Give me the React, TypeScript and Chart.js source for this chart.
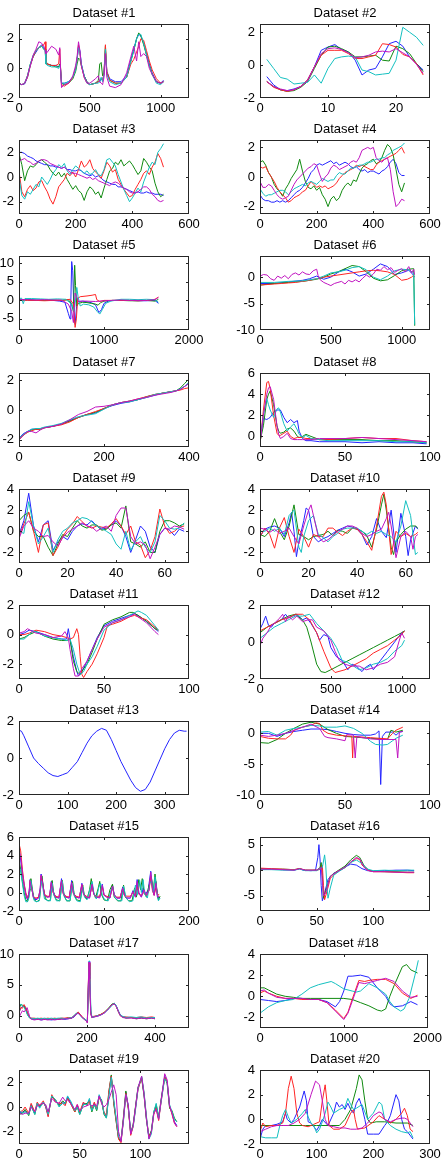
import { useEffect, useRef } from 'react';
import { Chart, registerables } from 'chart.js';

Chart.register(...registerables);

type Pt = [number, number];

const BLUE = '#2424ff';
const GREEN = '#108a10';
const RED = '#ff2424';
const CYAN = '#14c0c0';
const MAGENTA = '#c014c0';

// ---------- Dataset #1 ----------
const p1X = [0,20,40,60,80,100,120,140,160,175,185,190,200,230,260,280,288,292,300,320,350,380,400,410,420,430,440,460,480,500,540,560,570,580,590,600,610,620,640,680,720,760,790,810,830,845,860,880,900,920,940,970,1000,1020];
const p1Blue = [-1.0,-1.1,-1.05,-0.6,0.2,0.8,1.1,1.4,1.6,1.4,1.3,0.4,0.3,0.2,0.2,0.1,0.2,0.1,-1.0,-1.0,-0.9,-0.6,0.0,0.6,1.5,1.2,0.3,-0.5,-0.9,-1.1,-1.0,-0.9,-0.9,-0.7,-0.8,-0.4,1.2,-0.2,-0.7,-0.9,-0.9,-0.5,0.6,1.3,2.0,2.3,2.2,1.7,1.0,0.3,-0.3,-0.9,-1.0,-0.8];
const p1Green = [-1.0,-1.1,-1.0,-0.5,0.3,0.8,1.2,1.4,1.5,1.3,1.2,0.3,0.3,0.2,0.1,0.1,0.3,0.2,-1.0,-1.1,-1.0,-0.7,-0.2,0.3,0.7,0.6,0.2,-0.5,-0.9,-1.1,-1.0,-0.8,0.3,0.4,-0.5,-0.3,1.5,-0.3,-0.8,-1.0,-1.0,-0.6,0.5,1.2,2.0,2.4,2.2,1.6,0.9,0.2,-0.4,-0.9,-1.0,-0.9];
const p1Red = [-1.0,-1.1,-1.0,-0.6,0.2,0.8,1.2,1.4,1.5,1.6,1.8,0.5,0.3,0.2,0.2,0.3,1.3,0.3,-1.1,-1.2,-1.0,-0.6,0.0,0.6,1.6,1.0,0.2,-0.6,-1.0,-1.1,-1.0,-0.9,-0.8,-0.7,-0.8,-0.3,1.6,-0.2,-0.8,-1.0,-1.0,-0.6,0.3,0.6,1.1,1.5,2.0,1.9,1.2,0.5,-0.1,-0.7,-1.0,-0.9];
const p1Cyan = [-1.0,-1.1,-1.0,-0.5,0.3,0.9,1.2,1.4,1.5,1.3,1.2,0.3,0.2,0.1,0.1,0.0,0.2,0.1,-1.0,-1.0,-0.9,-0.6,-0.1,0.6,1.4,1.1,0.3,-0.5,-1.0,-1.1,-1.0,-1.0,-0.9,-0.6,-0.9,-0.4,1.3,-0.4,-0.9,-1.1,-1.0,-0.6,0.5,1.2,2.0,2.3,2.3,1.7,0.9,0.2,-0.4,-1.0,-1.1,-0.9];
const p1Magenta = [-1.0,-1.1,-1.0,-0.5,0.2,0.9,1.3,1.8,1.7,1.5,1.2,1.0,1.1,1.5,1.3,0.9,1.4,0.3,-1.3,-1.1,-1.0,-0.5,0.2,0.8,1.8,1.2,0.2,-0.6,-1.0,-1.0,-0.7,-0.5,-0.9,-1.0,-1.1,-0.6,1.0,-0.6,-1.2,-1.3,-1.1,-0.3,0.8,1.5,0.5,1.8,0.8,1.0,0.8,0.0,-0.4,-0.9,-1.0,-0.9];

// ---------- Dataset #2 ----------
const p2X = [1,2,3,4,5,6,7,8,9,10,11,12,13,14,15,16,17,18,19,20,21,22,23,24];
const p2Blue = [-0.7,-1.2,-1.5,-1.55,-1.45,-1.3,-0.9,-0.1,0.9,1.1,1.25,0.95,0.8,0.3,-0.6,-0.3,-0.2,0.5,1.3,1.45,1.15,0.5,0.1,-0.3];
const p2Green = [-1.0,-1.3,-1.5,-1.6,-1.55,-1.35,-1.0,-0.2,0.6,1.1,1.15,1.0,0.8,0.5,0.5,0.55,0.6,0.3,0.25,1.15,1.0,0.7,0.1,-0.4];
const p2Red = [-1.0,-1.35,-1.5,-1.6,-1.5,-1.3,-0.9,-0.1,0.6,0.9,0.9,0.9,0.7,0.4,0.4,0.5,0.6,1.3,1.25,1.1,0.65,0.5,0.1,-0.6];
const p2Cyan = [0.35,-0.2,-0.75,-0.85,-1.15,-1.1,-1.05,-0.6,-1.1,-0.2,0.4,0.5,0.55,0.5,-0.3,-0.4,-0.6,-0.55,-0.5,0.3,2.3,2.0,1.7,1.2];
const p2Magenta = [-1.0,-1.3,-1.45,-1.55,-1.5,-1.3,-0.95,-0.1,0.7,1.0,1.05,0.95,0.75,0.45,0.5,0.6,0.8,0.85,0.8,1.0,0.75,0.5,0.05,-0.5];

// ---------- Dataset #3 ----------
const p3X = [0,10,20,30,40,50,60,70,80,90,100,110,120,130,140,150,160,170,180,190,200,210,220,230,240,250,260,270,280,290,300,310,320,330,340,350,360,370,380,390,400,410,420,430,440,450,460,470,480,490,500,510];
const p3Blue = [2.0,2.0,1.9,1.7,1.6,1.5,1.3,1.2,1.1,1.0,1.0,0.9,0.9,0.8,0.8,0.7,0.8,0.6,0.6,0.5,0.5,0.6,0.5,0.3,0.2,0.1,0.2,0.0,0.1,-0.1,-0.3,-0.4,-0.5,-0.6,-0.6,-0.8,-0.8,-0.9,-1.0,-1.1,-1.2,-1.3,-1.2,-1.3,-1.3,-1.2,-1.3,-1.3,-1.4,-1.4,-1.4,-1.5];
const p3Green = [1.9,1.0,-0.3,0.5,0.9,0.8,1.0,1.3,1.4,1.2,1.0,0.6,0.3,0.1,0.4,0.0,0.3,-0.2,-0.6,-1.0,-0.7,-1.1,-1.3,-1.9,-1.2,-0.8,-1.0,-1.4,-1.2,-1.7,-0.9,-0.2,0.5,0.7,1.2,1.0,1.4,0.9,1.1,1.3,1.0,0.6,0.2,0.5,1.5,1.2,0.8,0.5,-0.5,-1.2,-1.6,-1.4];
const p3Red = [0.5,-1.2,-1.6,-1.0,-0.7,-1.1,-0.9,-0.4,-0.3,-0.8,-1.2,-1.8,-2.2,-1.6,-0.8,-0.5,-0.2,0.3,0.1,0.4,0.0,0.6,1.3,0.8,1.0,1.4,0.7,0.4,0.2,-0.1,0.5,1.2,0.9,0.4,0.6,-0.2,-0.6,-1.0,-1.3,-1.6,-1.5,-1.0,-0.6,-0.2,0.3,0.5,0.2,0.8,1.2,1.9,1.5,0.8];
const p3Cyan = [0.0,-1.5,-1.8,-1.2,-1.4,-1.0,-0.6,-0.8,0.0,-0.3,-0.6,-0.2,0.3,0.6,1.0,0.8,1.1,0.5,0.2,0.6,0.9,0.7,0.5,0.3,0.5,0.2,0.3,0.6,0.2,0.1,0.6,1.4,1.5,1.2,0.9,0.2,-0.4,-1.0,-1.5,-2.0,-1.7,-1.3,-0.9,-1.2,-0.4,0.2,0.8,1.2,1.0,2.0,2.3,2.7];
const p3Magenta = [1.3,1.4,1.5,1.3,1.2,1.0,1.1,1.3,1.4,1.4,1.3,1.1,1.0,0.9,0.8,0.7,0.8,0.6,0.4,0.3,0.3,0.2,0.1,0.0,-0.1,0.0,-0.2,-0.1,-0.3,-0.4,-0.5,-0.6,-0.7,-0.5,-0.4,-0.5,-0.7,-0.9,-1.0,-1.2,-1.3,-1.3,-1.2,-1.0,-0.8,-0.8,-1.0,-1.4,-1.6,-1.9,-2.0,-1.9];

// ---------- Dataset #4 ----------
const p4X = p3X;
const p4Blue = [-1.2,-1.5,-1.6,-1.6,-1.7,-1.7,-1.6,-1.7,-1.6,-1.7,-1.6,-1.4,-1.2,-1.0,-0.9,-0.7,-0.4,-0.1,0.3,0.5,0.8,0.9,0.8,0.9,1.0,1.1,0.9,1.0,0.8,0.9,1.0,0.9,0.7,0.6,0.7,0.5,0.4,0.5,0.3,0.4,0.4,0.3,0.2,0.4,0.5,0.7,1.0,1.2,0.9,0.3,0.1,0.1];
const p4Green = [1.0,1.1,0.8,0.3,0.0,-0.5,-0.8,-1.0,-1.3,-0.8,-0.5,-0.1,0.2,0.5,1.2,0.4,-0.3,-0.7,-0.8,-0.6,-0.9,-0.7,-1.2,-1.5,-2.0,-1.5,-1.3,-1.6,-1.4,-0.9,-0.6,-0.4,-0.6,-0.2,-0.3,0.2,0.6,0.8,0.9,1.1,1.2,0.9,1.0,1.3,1.8,2.2,2.0,1.5,0.5,-0.5,-1.0,-0.4];
const p4Red = [0.7,0.6,0.7,0.3,0.0,-0.3,-0.7,-1.0,-1.2,-1.4,-1.7,-1.6,-1.4,-1.3,-1.2,-1.0,-0.9,-0.6,-0.3,-0.5,-0.7,-0.6,-0.7,-0.6,-0.8,-0.7,-0.6,-0.4,-0.1,0.1,0.3,0.4,0.5,0.6,0.8,0.7,0.8,0.7,0.6,0.5,0.5,0.8,1.0,1.1,1.2,1.3,1.4,1.5,1.6,1.8,2.0,1.6];
const p4Cyan = [-0.8,-1.1,-1.3,-1.2,-1.2,-1.1,-1.0,-0.9,-0.9,-1.0,-1.2,-1.0,-0.8,-0.7,-0.6,-0.5,-0.6,-0.4,-0.3,-0.4,-0.5,-0.3,-0.1,-0.2,-0.3,-0.2,-0.2,0.1,0.3,0.2,0.2,0.4,0.6,0.6,0.7,0.8,0.8,0.9,1.0,1.0,1.1,1.2,1.2,1.3,1.3,1.5,1.6,1.8,1.9,2.0,2.1,2.3];
const p4Magenta = [-0.3,-0.7,-0.7,-0.5,-0.6,-0.9,-1.2,-1.4,-1.5,-1.4,-1.3,-0.9,-0.5,-0.2,0.0,0.2,0.4,0.6,0.7,0.9,0.8,0.2,-0.3,0.0,0.2,0.6,0.8,0.7,0.5,0.6,0.7,0.8,1.0,1.1,1.0,1.3,1.8,1.9,2.0,1.9,2.0,1.3,1.1,1.0,1.2,1.3,0.5,-1.0,-2.0,-1.8,-1.5,-1.6];

// ---------- Dataset #5 ----------
const p5Blue: Pt[] = [[0,0.3],[100,0.2],[200,0.1],[300,0.1],[400,0.0],[480,-0.2],[540,-0.5],[580,-3.5],[600,-5.0],[610,0.0],[620,10.5],[632,8.0],[645,-2.0],[660,-6.5],[680,-1.0],[700,-0.3],[750,-0.2],[800,-0.4],[850,-0.6],[900,-1.2],[940,-3.3],[970,-2.5],[1000,-0.8],[1050,-0.2],[1100,0.0],[1200,0.0],[1300,0.0],[1400,-0.1],[1500,-0.1],[1600,0.0],[1640,-0.8]];
const p5Green: Pt[] = [[0,0.0],[100,0.1],[200,0.0],[300,0.0],[400,0.1],[500,0.0],[580,0.2],[620,-1.0],[640,-3.0],[655,9.5],[665,4.0],[680,-1.5],[700,-0.8],[750,-0.5],[800,-0.6],[850,-0.8],[900,-1.0],[930,-1.3],[960,-0.6],[1000,-0.2],[1100,0.0],[1200,0.0],[1300,-0.1],[1400,-0.1],[1500,0.0],[1600,-0.2],[1640,0.3]];
const p5Red: Pt[] = [[0,0.1],[100,0.0],[200,0.0],[300,-0.1],[400,0.0],[500,0.0],[600,0.3],[640,-1.0],[660,-7.3],[675,-5.0],[690,0.5],[720,1.0],[800,1.2],[860,1.4],[900,1.6],[915,0.2],[950,-0.3],[1000,0.0],[1100,0.0],[1200,0.0],[1300,0.0],[1400,-0.1],[1500,0.0],[1600,0.3],[1640,0.9]];
const p5Cyan: Pt[] = [[0,0.5],[30,0.6],[50,-0.9],[70,0.5],[150,0.5],[250,0.4],[350,0.3],[450,0.4],[550,0.3],[620,-1.0],[650,-3.0],[680,3.5],[695,1.0],[720,-1.5],[760,-1.0],[820,-1.2],[880,-1.8],[920,-3.0],[950,-3.7],[980,-2.5],[1020,-0.8],[1080,-0.2],[1200,0.3],[1300,0.3],[1400,0.2],[1500,0.3],[1600,0.2],[1640,-0.5]];
const p5Magenta: Pt[] = [[0,0.2],[100,0.2],[200,0.1],[300,0.2],[400,0.1],[500,0.1],[580,-1.0],[620,-3.0],[640,-6.0],[650,-2.0],[660,2.0],[680,1.0],[700,-0.3],[750,-0.2],[800,-0.2],[900,-0.3],[1000,-0.1],[1100,0.0],[1200,0.1],[1300,0.0],[1400,0.0],[1500,0.0],[1600,0.2],[1640,0.8]];

// ---------- Dataset #6 ----------
const p6Blue: Pt[] = [[0,-1.2],[100,-1.2],[200,-0.9],[300,-0.6],[350,-0.3],[400,0.2],[450,-0.4],[500,0.0],[550,0.9],[600,1.5],[650,1.0],[700,0.2],[750,0.6],[800,1.5],[850,2.5],[900,2.0],[950,0.5],[1000,0.8],[1050,1.3],[1080,0.5],[1090,0.0]];
const p6Green: Pt[] = [[0,-1.5],[100,-1.2],[200,-1.0],[300,-0.8],[400,-0.4],[450,0.0],[500,0.6],[550,1.0],[600,1.6],[650,2.2],[700,2.0],[750,1.0],[800,-0.2],[850,-0.7],[900,-0.5],[950,0.3],[1000,1.2],[1050,1.5],[1085,1.6],[1092,-9.2]];
const p6Red: Pt[] = [[0,-1.5],[50,-1.4],[100,-1.3],[150,-1.2],[200,-1.1],[250,-1.0],[300,-0.8],[350,-0.6],[400,-0.3],[450,0.0],[500,0.2],[550,0.4],[600,0.6],[650,0.8],[700,1.0],[750,1.2],[800,1.3],[850,1.2],[900,1.0],[950,0.5],[1000,-0.6],[1040,-0.4],[1070,0.0],[1090,0.5]];
const p6Cyan: Pt[] = [[0,-1.0],[100,-1.0],[200,-0.8],[300,-0.7],[400,-0.3],[450,0.2],[500,0.8],[550,1.0],[600,1.3],[650,1.8],[700,2.0],[750,1.4],[800,0.0],[850,-0.5],[900,0.2],[950,1.2],[1000,1.5],[1050,1.4],[1085,0.8],[1092,-9.0]];
const p6Magenta: Pt[] = [[0,0.2],[25,0.5],[50,0.4],[75,-0.3],[100,-0.6],[125,0.2],[150,-0.2],[175,0.3],[200,-0.3],[225,0.5],[250,0.8],[275,0.4],[300,1.0],[325,0.6],[350,0.5],[375,1.2],[400,1.5],[410,0.3],[425,-0.5],[450,-1.0],[475,-1.3],[500,-1.6],[525,-1.2],[550,-1.0],[575,-0.8],[600,-1.3],[625,-0.6],[650,-0.9],[675,-0.5],[700,-0.9],[725,-0.2],[750,0.4],[775,0.0],[800,0.6],[825,1.5],[850,1.3],[875,2.0],[900,1.4],[925,1.8],[950,0.9],[975,1.3],[1000,1.6],[1025,1.0],[1050,2.0],[1070,0.8],[1085,1.5],[1090,0.5]];

// ---------- Dataset #7 ----------
const p7X = [0,10,20,30,40,50,60,80,100,120,140,160,180,200,220,240,260,280,300,320,340,360,370,380,390,400];
const p7Blue = [-1.9,-1.6,-1.45,-1.3,-1.3,-1.25,-1.2,-1.1,-0.95,-0.7,-0.5,-0.3,-0.2,0.1,0.3,0.45,0.55,0.7,0.85,1.0,1.15,1.25,1.3,1.4,1.6,1.8];
const p7Green = [-2.0,-1.7,-1.5,-1.35,-1.3,-1.3,-1.2,-1.1,-0.95,-0.75,-0.5,-0.3,-0.15,0.1,0.35,0.5,0.6,0.7,0.9,1.05,1.15,1.25,1.3,1.5,1.8,2.1];
const p7Red = [-2.0,-1.7,-1.5,-1.4,-1.3,-1.3,-1.2,-1.1,-1.0,-0.8,-0.5,-0.3,-0.1,0.1,0.35,0.5,0.6,0.75,0.9,1.05,1.15,1.25,1.3,1.35,1.45,1.5];
const p7Cyan = [-1.9,-1.65,-1.45,-1.3,-1.25,-1.25,-1.15,-1.05,-0.9,-0.65,-0.45,-0.35,-0.25,0.05,0.35,0.5,0.55,0.7,0.85,1.05,1.15,1.25,1.3,1.45,1.6,1.9];
const p7Magenta = [-2.0,-1.7,-1.45,-1.45,-1.55,-1.35,-1.2,-1.1,-0.95,-0.65,-0.3,-0.1,0.2,0.25,0.35,0.5,0.6,0.75,0.85,1.0,1.1,1.2,1.3,1.4,1.6,1.8];

// ---------- Dataset #8 ----------
const p8X = [0,2,4,5,6,8,10,11,12,14,16,18,20,22,23,25,27,30,35,40,50,60,70,80,90,98];
const p8Blue = [-0.5,1.7,1.6,1.7,1.8,2.3,2.5,2.5,2.5,1.8,1.3,1.6,1.3,1.5,0.5,-0.2,-0.4,-0.4,-0.5,-0.5,-0.5,-0.6,-0.5,-0.6,-0.6,-0.7];
const p8Green = [-0.5,1.0,3.5,4.0,4.3,3.0,1.0,0.5,0.3,0.4,0.7,0.8,0.5,0.0,-0.1,0.0,0.2,0.0,-0.3,-0.3,-0.3,-0.3,-0.4,-0.4,-0.5,-0.6];
const p8Red = [-0.8,2.5,5.1,5.2,4.5,2.0,0.3,0.1,0.1,0.3,0.5,0.0,-0.2,-0.1,-0.1,-0.1,-0.2,-0.2,-0.3,-0.3,-0.2,-0.1,-0.2,-0.2,-0.4,-0.5];
const p8Cyan = [-0.5,2.0,3.6,3.0,2.5,1.8,2.6,2.7,2.3,1.2,0.5,0.9,1.2,0.6,0.2,-0.1,0.1,-0.2,-0.3,-0.4,-0.4,-0.4,-0.4,-0.5,-0.5,-0.6];
const p8Magenta = [-0.6,2.0,4.0,4.6,4.7,3.5,1.0,0.2,-0.2,0.0,0.3,-0.2,-0.3,-0.3,-0.3,-0.3,-0.3,-0.3,-0.2,-0.2,-0.2,-0.1,-0.2,-0.3,-0.4,-0.5];

// ---------- Dataset #9 ----------
const p9X = [0,2,4,6,8,10,12,14,16,18,20,22,24,26,28,30,32,34,36,38,40,42,44,46,48,50,52,54,56,58,60,62,64,66,68];
const p9Blue = [-0.3,1.0,3.6,0.5,-1.0,0.6,1.0,-1.8,-1.0,-0.5,-0.8,0.0,0.5,0.7,0.6,1.0,0.5,0.2,0.3,0.6,1.0,0.5,-0.5,-2.0,-0.8,0.5,0.0,-1.5,-2.0,-0.3,0.3,0.1,-0.4,0.2,0.0];
const p9Green = [1.0,1.5,1.8,0.0,-0.5,-0.5,-1.5,-2.3,-1.2,-0.3,-0.5,0.3,1.0,0.5,0.3,0.6,0.6,0.1,0.2,0.6,0.8,0.3,2.4,-1.0,-1.2,-1.5,-1.0,-2.0,-2.0,0.0,1.0,1.0,0.8,0.5,0.7];
const p9Red = [-0.5,0.7,1.8,0.0,-2.0,0.6,0.8,-2.3,-1.5,-0.5,0.2,0.7,1.4,0.9,0.5,0.3,0.5,0.4,0.3,0.7,1.2,0.5,-0.3,0.5,-1.0,-1.3,-2.5,-1.8,-0.5,2.1,0.5,-0.2,0.0,0.4,0.5];
const p9Cyan = [0.0,-0.2,2.8,0.5,-1.2,-0.5,0.3,-2.0,-0.8,0.0,0.3,0.8,1.0,1.3,1.2,0.9,0.5,0.3,0.0,-0.3,-1.2,-1.7,0.0,-1.8,-1.0,-0.5,-1.5,-2.0,-1.0,1.5,1.0,0.3,0.2,0.3,0.8];
const p9Magenta = [-0.7,0.5,1.0,0.3,0.0,-0.5,-0.4,-1.0,-1.4,-0.6,-0.1,0.2,0.5,0.8,0.5,0.4,0.0,0.3,0.5,0.0,1.5,2.2,2.2,-0.5,-1.2,-1.0,-1.3,-2.6,-1.5,-0.3,0.3,0.2,0.5,0.4,0.2];

// ---------- Dataset #10 ----------
const p10Blue: Pt[] = [[0,-0.5],[2,0.2],[4,0.4],[6,0.5],[8,0.3],[10,-0.5],[12,0.8],[13,1.8],[14,0.0],[15,-2.4],[16,-1.0],[18,1.0],[19,2.2],[20,2.0],[22,-0.5],[24,-1.0],[26,-0.7],[28,-0.5],[30,-0.2],[32,0.1],[34,0.3],[36,0.5],[38,0.4],[40,0.2],[42,-0.3],[44,-1.3],[46,-0.5],[48,1.2],[50,0.0],[52,-0.6],[54,2.0],[56,-2.0],[58,1.7],[60,-0.5],[61,-2.3],[62,-0.8],[64,0.5],[65,0.2]];
const p10Green: Pt[] = [[0,-0.3],[2,-0.5],[4,0.0],[6,1.2],[8,0.0],[10,-0.8],[12,0.5],[14,2.5],[16,-0.3],[18,-0.5],[20,-0.8],[22,-0.5],[24,-0.4],[26,-0.3],[28,0.0],[30,-0.4],[32,0.1],[34,0.0],[36,-0.2],[38,0.3],[40,0.2],[42,0.0],[44,-0.4],[46,-1.5],[48,0.2],[50,2.5],[51,3.5],[52,2.0],[54,-1.5],[55,-2.2],[56,-1.0],[58,-0.3],[60,0.2],[62,0.5],[64,0.5],[65,0.3]];
const p10Red: Pt[] = [[0,-0.5],[2,0.3],[4,-0.3],[6,-1.6],[8,0.3],[10,1.3],[12,-0.5],[14,-2.0],[16,0.2],[18,-0.5],[20,-1.5],[22,-0.3],[24,-0.5],[26,-0.5],[28,0.3],[30,0.3],[32,-0.1],[34,-0.4],[36,0.0],[38,0.3],[40,0.2],[42,-0.3],[44,-1.0],[46,-1.8],[48,0.5],[50,3.3],[51,3.7],[52,2.5],[54,-2.2],[56,0.0],[58,-0.5],[60,-0.2],[62,-0.5],[64,-0.3],[65,-0.1]];
const p10Cyan: Pt[] = [[0,0.0],[2,0.0],[4,0.3],[6,0.0],[8,0.3],[10,-0.3],[12,1.5],[14,2.0],[16,-1.5],[17,-2.0],[18,-0.5],[20,1.0],[22,1.5],[24,-0.3],[26,-0.6],[28,-1.0],[30,-0.5],[32,-0.2],[34,0.2],[36,0.3],[38,0.3],[40,0.3],[42,0.0],[44,-0.3],[46,0.0],[48,-0.2],[50,0.0],[52,-0.3],[54,-0.5],[56,-1.0],[58,0.5],[60,2.9],[62,1.5],[64,-2.2],[65,-2.0]];
const p10Magenta: Pt[] = [[0,0.3],[2,0.2],[4,-0.1],[6,0.2],[8,-0.2],[10,0.0],[12,0.3],[14,-0.5],[16,-1.2],[18,0.5],[20,2.0],[21,2.5],[22,1.5],[24,-0.5],[26,-1.0],[28,-0.8],[30,-0.4],[32,0.0],[34,0.2],[36,0.5],[38,0.5],[40,0.3],[42,-0.2],[44,-0.5],[46,-0.3],[48,0.0],[50,0.2],[52,1.2],[53,1.8],[54,0.5],[56,-2.5],[57,-1.5],[58,-0.5],[60,0.0],[62,-0.5],[63,-1.7],[64,-0.5],[65,-0.3]];

// ---------- Dataset #11 ----------
const p11Blue: Pt[] = [[0,0.0],[3,0.1],[6,0.3],[10,0.2],[15,0.0],[20,-0.2],[25,-0.3],[28,-0.3],[29,0.4],[30,-0.3],[32,-1.5],[34,-2.5],[35,-2.8],[37,-2.5],[40,-1.8],[43,-1.0],[46,-0.2],[50,0.6],[55,0.9],[60,1.1],[65,1.3],[68,1.4],[70,1.3],[75,0.9],[80,0.4],[82,0.2]];
const p11Green: Pt[] = [[0,-0.3],[3,-0.2],[6,0.0],[10,0.2],[15,-0.1],[20,-0.3],[25,-0.4],[28,-0.4],[30,-0.3],[32,-1.8],[34,-2.5],[36,-2.7],[38,-2.3],[40,-2.0],[43,-1.2],[46,-0.3],[50,0.7],[55,1.0],[60,1.2],[65,1.5],[67,1.5],[70,1.3],[75,0.9],[80,0.4],[82,0.3]];
const p11Red: Pt[] = [[0,0.0],[3,0.0],[6,0.1],[10,0.3],[15,0.2],[20,0.0],[25,-0.1],[28,-0.2],[30,-0.3],[32,-0.2],[34,0.4],[35,0.0],[36,-1.5],[37,-2.7],[38,-2.9],[40,-2.5],[43,-2.0],[46,-1.3],[50,-0.2],[52,0.6],[55,0.7],[60,0.9],[65,1.2],[68,1.3],[70,1.2],[75,1.0],[80,0.5],[82,0.3]];
const p11Cyan: Pt[] = [[0,-0.3],[3,-0.3],[6,0.0],[8,0.2],[10,0.2],[15,-0.1],[20,-0.2],[25,-0.3],[28,-0.4],[30,-0.3],[32,-1.0],[34,-2.0],[36,-2.7],[38,-2.5],[40,-2.0],[43,-1.5],[46,-0.8],[50,0.3],[55,0.8],[60,1.0],[65,1.3],[70,1.6],[72,1.5],[75,1.3],[80,0.6],[82,0.3]];
const p11Magenta: Pt[] = [[0,0.1],[3,0.2],[5,0.4],[8,0.2],[10,0.1],[15,0.0],[20,-0.2],[25,-0.1],[27,0.2],[29,-0.2],[30,-1.0],[32,-2.3],[33,-2.8],[35,-2.8],[37,-2.3],[40,-1.8],[43,-1.0],[46,-0.3],[50,0.5],[55,0.8],[60,1.0],[65,1.2],[68,1.4],[70,1.2],[75,0.8],[80,0.2],[82,0.0]];

// ---------- Dataset #12 ----------
const p12Blue: Pt[] = [[0,0.7],[20,1.0],[40,1.4],[60,0.9],[80,0.8],[100,1.0],[150,1.2],[180,1.5],[200,1.3],[230,1.4],[260,1.5],[300,1.2],[330,1.3],[360,1.0],[400,0.5],[420,0.1],[450,0.4],[480,0.3],[500,-0.3],[540,-0.8],[580,-1.0],[620,-1.5],[650,-1.2],[680,-1.3],[720,-1.6],[740,-1.4],[780,-1.2],[800,-1.5],[850,-1.0],[900,-0.5],[950,0.0],[980,0.3],[1000,0.5],[1020,0.6]];
const p12Green: Pt[] = [[0,0.5],[50,0.8],[100,1.0],[150,1.2],[200,1.4],[250,1.5],[300,1.2],[330,0.8],[360,0.0],[400,-1.2],[430,-1.6],[460,-1.65],[500,-1.5],[550,-1.3],[600,-1.1],[650,-0.9],[700,-0.7],[750,-0.5],[800,-0.3],[850,-0.1],[900,0.1],[950,0.3],[1000,0.5],[1020,0.6]];
const p12Red: Pt[] = [[0,0.6],[50,0.8],[100,1.0],[150,1.2],[200,1.3],[250,1.5],[300,1.5],[350,1.2],[400,0.5],[450,-0.5],[500,-1.4],[530,-1.65],[600,-1.5],[650,-1.3],[700,-1.1],[750,-0.9],[800,-0.6],[850,-0.4],[900,-0.2],[950,0.1],[1000,0.4],[1020,0.6]];
const p12Cyan: Pt[] = [[0,0.2],[50,0.5],[100,0.8],[150,1.0],[200,1.2],[250,1.4],[300,1.4],[350,1.5],[400,1.0],[450,0.6],[500,0.2],[540,-0.3],[580,-1.0],[620,-1.1],[660,-1.3],[700,-1.5],[750,-1.4],[800,-1.2],[850,-1.1],[900,-0.9],[950,-0.5],[1000,-0.2],[1020,0.1]];
const p12Magenta: Pt[] = [[0,-0.2],[20,0.2],[50,0.5],[80,0.9],[100,1.0],[140,1.3],[160,1.5],[180,1.1],[200,1.4],[230,1.2],[260,1.4],[300,1.1],[340,1.2],[370,1.2],[400,0.8],[450,0.6],[500,0.1],[530,-0.5],[560,-1.0],[600,-1.2],[640,-1.3],[700,-1.3],[750,-1.5],[800,-1.4],[850,-1.2],[900,-1.1],[950,-0.8],[980,0.0],[1000,0.5],[1020,0.2]];

// ---------- Dataset #13 ----------
const p13X = [0,5,10,20,30,40,50,60,70,80,90,100,110,120,130,140,150,160,170,180,190,200,210,220,230,240,250,260,270,280,290,300,310,320,330,340,345];
const p13Blue = [1.5,1.45,1.2,0.6,0.0,-0.3,-0.55,-0.8,-0.95,-1.0,-0.9,-0.8,-0.5,-0.2,0.3,0.8,1.2,1.45,1.6,1.5,1.0,0.4,-0.2,-0.7,-1.2,-1.6,-1.8,-1.7,-1.3,-0.7,-0.1,0.5,1.0,1.35,1.5,1.45,1.45];

// ---------- Dataset #14 ----------
const p14Blue: Pt[] = [[0,0.0],[5,0.0],[10,-0.5],[15,0.0],[20,0.3],[25,0.5],[30,0.7],[35,0.7],[40,0.6],[45,0.3],[50,0.0],[55,-0.2],[60,-0.3],[65,-0.3],[68,-0.1],[70,0.4],[71,-8.3],[72,-0.5],[74,0.2],[78,0.2],[80,-0.3],[82,0.2],[84,0.3]];
const p14Green: Pt[] = [[0,-1.5],[5,-1.6],[10,-1.0],[15,0.0],[20,0.8],[25,1.5],[30,1.8],[35,1.5],[40,0.6],[45,0.0],[50,-0.5],[55,-0.6],[60,-0.7],[65,-0.8],[70,-0.9],[75,-1.0],[77,0.5],[80,0.2],[84,0.5]];
const p14Red: Pt[] = [[0,-0.5],[5,-0.8],[10,-0.9],[15,-0.9],[18,-0.3],[20,0.5],[25,1.0],[30,1.3],[33,1.7],[35,1.6],[37,0.5],[40,0.0],[45,-0.3],[50,-0.4],[54,-0.5],[54.5,-4.0],[55,-0.5],[60,-0.6],[65,-0.7],[70,-0.8],[75,-0.9],[78,0.0],[80,0.5],[84,1.0]];
const p14Cyan: Pt[] = [[0,0.2],[5,0.3],[10,-0.3],[15,0.5],[20,0.8],[25,1.0],[30,1.3],[35,1.2],[38,1.0],[40,1.0],[45,1.0],[50,1.2],[55,0.8],[60,0.0],[65,-1.3],[68,-1.8],[72,-1.9],[75,-1.8],[78,-1.2],[80,-0.8],[84,-0.3]];
const p14Magenta: Pt[] = [[0,-0.3],[5,-0.5],[10,-0.3],[15,0.0],[20,0.5],[25,1.0],[30,1.5],[35,0.8],[38,-0.5],[40,-0.7],[45,-0.9],[50,-1.2],[51,-0.2],[55,-0.3],[56,-4.0],[57,-0.5],[60,-0.7],[65,-0.9],[70,-1.0],[75,-1.0],[80,-1.0],[81,-4.0],[82,0.2],[84,0.3]];

// ---------- Dataset #15 ----------
const p15Blue: Pt[] = [[0,4.8],[2,3.5],[4,2.0],[6,0.8],[8,-0.3],[10,-0.8],[12,0.2],[13,1.4],[15,0.5],[17,-0.6],[20,-0.8],[23,-0.6],[25,0.5],[26,2.0],[28,1.0],[30,-0.3],[33,-0.5],[36,-0.4],[38,1.2],[40,0.2],[43,-0.5],[47,-0.6],[50,1.5],[52,0.0],[55,-0.5],[59,-0.6],[62,1.3],[64,0.0],[67,-0.5],[71,-0.6],[74,1.0],[76,-0.1],[79,-0.5],[83,-0.6],[86,1.0],[88,-0.1],[91,-0.5],[95,-0.5],[98,0.9],[100,-0.2],[103,-0.5],[107,-0.6],[110,0.8],[112,-0.2],[115,-0.6],[119,-0.6],[122,0.6],[124,-0.3],[127,-0.6],[131,-0.6],[134,0.2],[137,-0.5],[139,1.4],[141,0.0],[144,-0.5],[146,0.5],[149,-0.2],[152,0.3],[155,2.3],[157,0.5],[159,-0.3],[161,1.2],[163,-0.6],[165,-0.5]];
const p15Green: Pt[] = [[0,3.5],[2,2.5],[4,1.2],[6,0.0],[8,-0.8],[10,-1.0],[13,0.3],[14,1.5],[16,0.2],[18,-0.8],[21,-1.0],[24,-0.8],[27,1.8],[29,0.3],[31,-0.6],[34,-0.9],[37,-0.8],[39,1.3],[41,-0.2],[44,-0.8],[48,-0.9],[51,1.3],[53,-0.3],[56,-0.9],[60,-0.9],[63,1.2],[65,-0.3],[68,-0.8],[72,-0.9],[75,0.8],[77,-0.4],[80,-0.7],[83,0.3],[85,1.5],[87,0.2],[90,-0.6],[93,0.4],[95,1.2],[97,-0.2],[100,-0.8],[104,-0.9],[107,0.3],[110,0.9],[112,-0.5],[116,-0.9],[120,-0.9],[123,0.8],[125,-0.5],[129,-0.9],[133,-0.9],[136,0.5],[138,-0.5],[141,1.4],[143,0.3],[145,1.5],[147,0.0],[150,-0.5],[153,0.8],[156,1.5],[158,0.2],[160,2.0],[162,0.5],[164,-0.8],[166,-0.4]];
const p15Red: Pt[] = [[0,5.3],[2,4.5],[4,2.5],[6,1.0],[8,0.0],[10,-0.6],[12,0.0],[13,1.3],[15,0.4],[17,-0.5],[20,-0.6],[23,-0.5],[25,0.3],[26,1.8],[28,0.8],[30,-0.2],[33,-0.4],[36,-0.4],[38,1.0],[40,0.0],[43,-0.4],[47,-0.5],[50,1.2],[52,-0.1],[55,-0.4],[59,-0.5],[62,1.0],[64,-0.1],[67,-0.4],[71,-0.5],[74,0.8],[76,-0.2],[79,-0.4],[83,-0.5],[86,0.8],[88,-0.2],[91,-0.4],[95,-0.4],[98,0.6],[100,-0.3],[103,-0.4],[107,-0.5],[110,0.6],[112,-0.3],[115,-0.5],[119,-0.5],[122,0.4],[124,-0.3],[127,-0.4],[131,-0.4],[134,0.0],[137,-0.3],[139,0.6],[141,-0.2],[144,-0.3],[147,0.0],[150,-0.3],[153,0.2],[155,1.8],[157,0.2],[159,-0.3],[161,0.5],[163,-0.3],[165,-0.2]];
const p15Cyan: Pt[] = [[0,3.0],[2,2.2],[4,1.0],[6,-0.3],[8,-1.0],[10,-1.0],[12,-0.5],[14,1.3],[16,0.0],[18,-0.9],[21,-1.0],[24,-0.9],[26,1.3],[28,0.5],[30,-0.7],[34,-0.9],[37,-0.9],[39,1.0],[41,-0.3],[44,-0.9],[48,-0.9],[51,1.2],[53,-0.4],[56,-0.9],[60,-0.9],[63,1.0],[65,-0.4],[68,-0.9],[72,-1.0],[75,0.6],[77,-0.5],[80,-0.8],[84,0.5],[86,1.2],[88,0.0],[91,-0.7],[94,0.6],[96,1.0],[98,-0.3],[101,-0.8],[105,-0.9],[108,0.2],[110,0.6],[113,-0.6],[117,-0.9],[121,-0.9],[123,0.7],[126,-0.6],[130,-1.0],[134,-0.9],[137,0.8],[139,-0.3],[142,1.3],[144,0.0],[146,1.4],[148,-0.2],[151,-0.6],[154,1.0],[156,1.3],[158,0.0],[160,1.7],[162,0.2],[164,-0.9],[166,-0.6]];
const p15Magenta: Pt[] = [[0,4.5],[2,3.8],[4,2.2],[6,0.9],[8,-0.2],[10,-0.7],[12,0.1],[13,1.2],[15,0.4],[17,-0.5],[20,-0.7],[23,-0.6],[25,0.4],[26,1.9],[28,0.9],[30,-0.3],[33,-0.5],[36,-0.5],[38,1.1],[40,0.1],[43,-0.5],[47,-0.6],[50,1.3],[52,-0.1],[55,-0.5],[59,-0.6],[62,1.1],[64,-0.1],[67,-0.5],[71,-0.6],[74,0.9],[76,-0.2],[79,-0.5],[83,-0.6],[86,0.9],[88,-0.2],[91,-0.5],[95,-0.6],[98,0.8],[100,-0.3],[103,-0.5],[107,-0.6],[110,0.7],[112,-0.3],[115,-0.6],[119,-0.6],[122,0.5],[124,-0.3],[127,-0.6],[131,-0.6],[134,0.1],[137,-0.5],[139,1.2],[141,-0.1],[144,-0.5],[147,0.3],[150,-0.3],[153,0.3],[155,2.2],[157,0.4],[159,-0.3],[161,1.0],[163,-0.5],[165,-0.4]];

// ---------- Dataset #16 ----------
const p16Blue: Pt[] = [[0,0.2],[10,0.2],[20,0.1],[30,0.0],[35,0.3],[38,0.0],[45,-0.1],[49,0.0],[51,2.5],[52,5.0],[53,2.0],[54,-3.0],[55,-6.0],[57,-4.5],[60,-1.8],[65,-0.6],[70,-0.1],[75,0.6],[80,1.2],[85,1.0],[90,0.3],[95,-0.1],[100,-0.2],[110,-0.1],[120,0.0],[130,0.0],[136,-0.1]];
const p16Green: Pt[] = [[0,0.3],[10,0.2],[20,0.2],[30,0.1],[35,0.3],[40,0.0],[50,0.0],[53,0.5],[54,1.5],[55,-1.0],[56,-5.5],[58,-4.0],[62,-1.2],[68,-0.2],[75,0.8],[80,2.0],[85,2.9],[88,2.5],[92,0.8],[96,0.0],[100,-0.2],[110,-0.3],[120,-0.3],[130,-0.4],[136,-0.4]];
const p16Red: Pt[] = [[0,0.4],[10,0.3],[20,0.2],[30,0.1],[35,0.3],[40,0.0],[50,0.0],[54,0.2],[55,1.0],[56,-3.0],[57,-5.8],[59,-4.2],[62,-1.6],[68,-0.3],[75,0.5],[80,1.5],[85,2.3],[88,2.1],[90,1.0],[95,0.0],[100,-0.3],[110,-0.3],[120,-0.4],[130,-0.5],[136,-0.5]];
const p16Cyan: Pt[] = [[0,0.1],[10,0.1],[20,0.0],[30,0.0],[35,0.2],[40,-0.1],[50,-0.1],[55,0.5],[57,3.0],[58,1.0],[59,-3.0],[60,-5.5],[62,-3.5],[65,-1.0],[70,-0.2],[75,0.5],[80,1.5],[85,2.0],[90,1.3],[95,0.2],[100,-0.1],[110,0.0],[120,-0.1],[130,0.0],[136,0.0]];
const p16Magenta: Pt[] = [[0,0.2],[10,0.2],[20,0.1],[30,0.0],[35,0.3],[40,0.0],[50,0.0],[54,0.5],[55,-2.0],[56,-5.0],[58,-4.5],[62,-1.2],[68,-0.3],[75,0.6],[80,1.6],[85,2.5],[88,2.2],[92,0.5],[96,-0.1],[100,-0.3],[110,-0.3],[120,-0.4],[130,-0.4],[136,-0.4]];

// ---------- Dataset #17 ----------
const p17Blue: Pt[] = [[0,0.5],[5,1.2],[10,1.5],[15,1.6],[20,1.2],[25,0.5],[30,-0.2],[35,-0.5],[45,-0.6],[55,-0.5],[65,-0.7],[75,-0.6],[85,-0.6],[95,-0.7],[105,-0.6],[115,-0.6],[125,-0.5],[135,-0.6],[145,-0.5],[155,-0.4],[162,-0.2],[168,0.2],[174,0.5],[180,0.2],[186,-0.3],[192,-0.5],[198,-0.8],[201,-1.0],[204,5.0],[206,8.8],[208,6.0],[211,0.5],[214,-0.3],[220,-0.2],[230,-0.1],[240,0.1],[250,0.4],[258,0.8],[266,1.3],[274,1.8],[280,2.0],[286,1.6],[292,0.8],[298,0.1],[305,-0.2],[315,-0.3],[330,-0.3],[345,-0.4],[360,-0.3],[375,-0.4],[390,-0.3],[400,-0.4]];
const p17Green: Pt[] = [[0,1.0],[5,1.8],[10,1.7],[15,1.5],[20,1.0],[25,0.2],[30,-0.3],[35,-0.5],[45,-0.5],[55,-0.6],[65,-0.5],[75,-0.6],[85,-0.5],[95,-0.6],[105,-0.5],[115,-0.6],[125,-0.5],[135,-0.5],[145,-0.4],[155,-0.4],[162,-0.1],[168,0.3],[174,0.5],[180,0.1],[186,-0.3],[192,-0.6],[198,-0.9],[201,-1.1],[204,4.5],[206,8.5],[208,6.5],[211,0.8],[214,-0.2],[220,-0.2],[230,0.0],[240,0.2],[250,0.5],[258,0.9],[266,1.4],[274,1.9],[280,2.0],[286,1.5],[292,0.7],[298,0.0],[305,-0.2],[315,-0.4],[330,-0.3],[345,-0.5],[360,-0.4],[375,-0.5],[390,-0.4],[400,-0.5]];
const p17Red: Pt[] = [[0,0.5],[5,1.3],[10,1.2],[15,1.8],[20,1.3],[25,0.4],[30,-0.2],[35,-0.4],[45,-0.4],[55,-0.5],[65,-0.4],[75,-0.5],[85,-0.4],[95,-0.5],[105,-0.4],[115,-0.5],[125,-0.4],[135,-0.4],[145,-0.3],[155,-0.3],[162,0.0],[168,0.3],[174,0.6],[180,0.2],[186,-0.2],[192,-0.5],[198,-0.8],[201,-1.0],[204,5.5],[206,8.6],[208,5.5],[211,0.3],[214,-0.2],[220,-0.1],[230,0.0],[240,0.2],[250,0.5],[258,0.9],[266,1.3],[274,1.8],[280,1.9],[286,1.5],[292,0.7],[298,0.0],[305,-0.2],[315,-0.2],[330,-0.3],[345,-0.3],[360,-0.2],[375,-0.3],[390,-0.2],[400,-0.3]];
const p17Cyan: Pt[] = [[0,1.5],[5,1.9],[10,1.6],[15,1.3],[20,0.8],[25,0.1],[30,-0.3],[35,-0.4],[45,-0.5],[55,-0.4],[65,-0.5],[75,-0.4],[85,-0.5],[95,-0.4],[105,-0.5],[115,-0.4],[125,-0.4],[135,-0.5],[145,-0.4],[155,-0.3],[162,0.0],[168,0.4],[174,0.4],[180,0.0],[186,-0.3],[192,-0.5],[198,-0.7],[201,-0.9],[204,4.0],[207,8.9],[209,5.0],[212,0.4],[215,-0.2],[220,-0.2],[230,0.0],[240,0.1],[250,0.4],[258,0.8],[266,1.2],[274,1.7],[280,2.0],[286,1.6],[292,0.8],[298,0.1],[305,-0.1],[315,-0.3],[330,-0.2],[345,-0.3],[360,-0.2],[375,-0.4],[390,-0.3],[400,-0.3]];
const p17Magenta: Pt[] = [[0,-0.3],[5,0.3],[10,0.8],[15,0.6],[20,1.0],[24,1.3],[28,0.5],[32,-0.3],[38,-0.6],[45,-0.7],[55,-0.6],[65,-0.7],[75,-0.6],[85,-0.7],[95,-0.6],[105,-0.7],[115,-0.6],[125,-0.6],[135,-0.5],[145,-0.5],[155,-0.4],[162,-0.1],[168,0.2],[174,0.4],[180,0.1],[186,-0.3],[192,-0.6],[198,-0.9],[201,-1.2],[204,5.0],[206,8.7],[208,6.0],[211,0.5],[214,-0.3],[220,-0.2],[230,-0.1],[240,0.1],[250,0.4],[258,0.8],[266,1.3],[274,1.8],[280,1.9],[286,1.5],[292,0.7],[298,0.0],[305,-0.3],[315,-0.4],[330,-0.4],[345,-0.5],[360,-0.4],[375,-0.5],[390,-0.4],[400,-0.5]];

// ---------- Dataset #18 ----------
const p18Blue: Pt[] = [[0,-0.3],[100,-0.4],[200,-0.5],[300,-0.4],[400,-0.2],[500,-0.2],[600,-0.3],[700,-0.3],[800,-0.5],[900,-1.0],[950,-0.5],[1000,0.5],[1050,1.9],[1100,1.9],[1200,2.0],[1300,1.8],[1400,0.8],[1500,0.0],[1550,-0.7],[1600,-1.0],[1700,-0.9],[1800,-0.5],[1880,-0.8]];
const p18Green: Pt[] = [[0,0.8],[50,0.8],[100,0.6],[200,0.2],[300,0.0],[400,-0.1],[500,-0.2],[600,-0.2],[800,-0.2],[1000,-0.2],[1100,-0.3],[1200,-0.6],[1300,-0.9],[1400,-1.3],[1450,-1.4],[1500,-1.2],[1550,0.0],[1600,1.0],[1700,2.8],[1750,3.0],[1800,2.5],[1880,2.2]];
const p18Red: Pt[] = [[0,0.3],[50,0.5],[100,0.3],[200,0.0],[300,-0.2],[400,-0.2],[500,-0.3],[600,-0.3],[700,-0.3],[800,-0.6],[900,-1.3],[1000,-2.1],[1050,-1.5],[1100,-0.3],[1180,1.5],[1250,1.4],[1300,1.5],[1400,1.6],[1500,1.6],[1600,1.2],[1700,0.3],[1800,-0.2],[1880,0.1]];
const p18Cyan: Pt[] = [[0,-1.6],[100,-1.0],[200,-0.6],[300,-0.4],[400,-0.3],[500,0.2],[600,0.8],[700,1.1],[800,1.3],[850,1.4],[900,1.2],[1000,0.7],[1100,0.5],[1150,0.4],[1200,0.5],[1300,1.2],[1400,0.8],[1500,0.2],[1550,-0.5],[1600,-1.0],[1680,-1.4],[1720,-1.2],[1780,-0.2],[1850,2.0],[1890,3.4]];
const p18Magenta: Pt[] = [[0,0.5],[50,0.6],[100,0.3],[200,-0.1],[300,-0.2],[400,-0.2],[500,-0.2],[600,-0.3],[700,-0.3],[800,-0.6],[900,-1.4],[1000,-2.2],[1050,-1.6],[1100,-0.5],[1180,1.3],[1250,1.2],[1300,1.3],[1400,1.5],[1500,1.7],[1600,1.4],[1700,0.5],[1800,-0.1],[1880,0.0]];

// ---------- Dataset #19 ----------
const p19Blue: Pt[] = [[0,-0.5],[3,-0.4],[5,-0.3],[8,-0.6],[10,0.2],[13,-0.5],[15,0.3],[17,0.0],[20,0.4],[22,0.0],[24,-0.7],[27,0.9],[30,0.5],[33,0.2],[36,0.4],[38,0.2],[40,0.8],[43,0.3],[46,-0.3],[48,0.1],[50,-0.5],[53,0.3],[56,0.2],[58,0.6],[60,-0.3],[62,0.3],[64,-0.2],[66,0.9],[68,0.5],[70,-0.5],[72,-0.8],[74,1.0],[76,2.5],[78,0.5],[80,-1.0],[82,-2.5],[84,-2.8],[86,-1.0],[88,1.2],[90,0.0],[92,-2.2],[94,-1.5],[96,0.0],[98,1.5],[101,2.4],[103,1.0],[105,-1.0],[107,-2.5],[109,-2.0],[111,-0.5],[113,0.0],[115,-1.0],[117,0.5],[120,2.5],[122,2.0],[124,0.0],[126,-0.5],[128,-1.2],[130,-1.5]];
const p19Green: Pt[] = [[0,-0.6],[3,-0.5],[5,-0.2],[8,-0.7],[10,0.1],[13,-0.6],[15,0.2],[17,0.1],[20,0.3],[22,0.1],[24,-0.6],[27,0.8],[30,0.6],[33,0.1],[36,0.5],[38,0.3],[40,0.7],[43,0.2],[46,-0.4],[48,0.0],[50,-0.6],[53,0.2],[56,0.3],[58,0.5],[60,-0.4],[62,0.2],[64,-0.3],[66,0.8],[68,0.6],[70,-0.6],[72,-0.9],[74,1.2],[76,2.6],[78,0.3],[80,-1.2],[82,-2.6],[84,-2.7],[86,-0.8],[88,1.3],[90,-0.1],[92,-2.1],[94,-1.4],[96,0.1],[98,1.6],[101,2.3],[103,0.9],[105,-1.1],[107,-2.4],[109,-1.9],[111,-0.4],[113,0.2],[115,-0.8],[117,0.6],[120,2.4],[122,1.9],[124,-0.1],[126,-0.3],[128,-0.9],[130,-1.2]];
const p19Red: Pt[] = [[0,-0.4],[3,-0.3],[5,0.0],[8,-0.5],[10,0.3],[13,-0.4],[15,0.4],[17,0.1],[20,0.5],[22,0.0],[24,-0.8],[27,1.0],[30,0.4],[33,0.3],[36,0.3],[38,0.1],[40,0.7],[43,0.2],[46,-0.4],[48,0.2],[50,-0.4],[53,0.4],[56,0.1],[58,0.5],[60,-0.2],[62,0.4],[64,-0.1],[66,0.8],[68,0.4],[70,-0.4],[72,-0.7],[74,1.3],[76,2.5],[78,0.4],[80,-1.1],[82,-2.6],[84,-2.9],[86,-1.1],[88,1.1],[90,-0.1],[92,-2.3],[94,-1.6],[96,-0.1],[98,1.4],[101,2.4],[103,1.1],[105,-0.9],[107,-2.4],[109,-2.1],[111,-0.6],[113,-0.1],[115,-1.1],[117,0.4],[120,2.4],[122,2.1],[124,0.1],[126,-0.6],[128,-1.3],[130,-1.6]];
const p19Cyan: Pt[] = [[0,-0.3],[3,-0.5],[5,-0.4],[8,-0.6],[10,0.1],[13,-0.6],[15,0.3],[17,-0.1],[20,0.4],[22,0.1],[24,-0.6],[27,0.9],[30,0.6],[33,0.0],[36,0.3],[38,0.3],[40,0.9],[43,0.4],[46,-0.3],[48,0.0],[50,-0.6],[53,0.2],[56,0.2],[58,0.7],[60,-0.3],[62,0.2],[64,-0.2],[66,1.0],[68,0.5],[70,-0.5],[72,-0.9],[74,0.9],[76,2.4],[78,0.6],[80,-0.9],[82,-2.4],[84,-2.7],[86,-1.2],[88,1.0],[90,0.1],[92,-2.1],[94,-1.6],[96,-0.2],[98,1.5],[101,2.5],[103,1.2],[105,-0.8],[107,-2.6],[109,-2.2],[111,-0.4],[113,0.3],[115,-0.9],[117,0.4],[120,2.3],[122,2.0],[124,0.2],[126,-0.4],[128,-1.0],[130,-1.2]];
const p19Magenta: Pt[] = [[0,-0.5],[3,-0.6],[5,-0.5],[8,-0.5],[10,0.0],[13,-0.4],[15,0.1],[17,0.2],[20,0.3],[22,0.2],[24,-0.4],[27,0.7],[30,0.4],[33,0.3],[36,0.8],[38,0.5],[40,0.6],[43,0.2],[46,-0.2],[48,0.2],[50,-0.3],[53,0.0],[56,0.1],[58,0.2],[60,0.1],[62,0.2],[64,0.1],[66,0.9],[68,0.3],[70,0.0],[72,0.2],[74,0.6],[76,1.2],[78,1.8],[80,1.0],[82,-2.0],[84,-2.8],[86,-1.0],[88,1.0],[90,0.2],[92,-2.2],[94,-1.5],[96,0.0],[98,1.6],[101,2.5],[103,1.0],[105,-1.0],[107,-2.6],[109,-2.0],[111,-0.5],[113,-0.2],[115,-1.0],[117,0.5],[120,2.7],[122,2.2],[124,0.1],[126,-0.5],[128,-1.3],[130,-1.6]];

// ---------- Dataset #20 ----------
const p20Blue: Pt[] = [[0,-1.6],[5,-0.8],[10,-0.5],[20,-0.5],[30,-0.4],[40,-0.2],[45,0.5],[48,0.0],[55,-0.3],[60,0.0],[70,1.0],[78,2.3],[82,1.5],[85,-0.2],[90,-0.3],[95,-0.6],[100,-0.9],[105,-0.5],[110,0.0],[120,-0.5],[130,0.5],[135,1.4],[140,1.0],[145,1.2],[150,0.8],[155,1.3],[160,0.8],[165,0.5],[170,1.3],[175,1.7],[180,1.0],[185,0.0],[190,-1.2],[200,-1.2],[210,-1.2],[220,-0.5],[225,-0.2],[230,0.3],[240,2.0],[245,1.5],[250,0.0],[255,-0.8],[260,-1.0],[270,-1.6]];
const p20Green: Pt[] = [[0,-0.5],[20,-0.5],[50,-0.5],[80,-0.5],[100,-0.5],[120,-0.5],[140,-0.5],[150,0.0],[160,0.8],[170,2.5],[175,3.6],[180,3.2],[185,1.5],[190,0.0],[195,-0.3],[205,-0.2],[220,-0.2],[240,-0.3],[260,-0.3],[270,-0.5]];
const p20Red: Pt[] = [[0,-1.0],[5,-0.3],[10,-0.6],[20,-0.5],[30,-0.5],[40,-0.3],[45,0.5],[50,2.5],[55,3.5],[60,2.5],[65,0.5],[70,-0.3],[75,-0.5],[85,-0.6],[95,-0.4],[105,-0.2],[110,1.5],[115,2.8],[118,1.5],[122,-0.5],[130,-0.8],[140,-0.8],[150,-0.5],[160,0.5],[165,0.8],[168,0.0],[172,-0.8],[185,-0.7],[200,-0.2],[210,0.3],[220,0.0],[230,-0.3],[240,0.0],[250,0.5],[255,0.9],[260,0.3],[265,-0.8],[270,-1.0]];
const p20Cyan: Pt[] = [[0,-1.4],[10,-1.5],[20,-1.5],[30,-1.5],[35,-0.5],[40,0.3],[45,0.8],[50,0.2],[55,-0.3],[65,0.0],[75,0.5],[80,0.8],[85,0.2],[90,-0.3],[95,-0.5],[100,-1.1],[105,-0.8],[110,-0.2],[115,0.5],[120,1.4],[125,1.0],[130,0.5],[140,0.8],[150,1.0],[155,1.7],[160,1.2],[165,0.8],[170,0.9],[180,1.2],[190,0.0],[200,0.5],[210,1.4],[215,1.2],[220,0.0],[230,-0.5],[240,-0.8],[250,-1.0],[260,-1.1],[265,-1.0],[270,-1.5]];
const p20Magenta: Pt[] = [[0,-1.0],[10,-0.8],[20,-0.6],[30,-0.5],[40,-0.5],[50,-0.5],[60,-0.3],[70,0.0],[80,0.5],[90,2.0],[98,3.1],[105,2.8],[110,1.5],[115,0.0],[120,-0.5],[130,-0.6],[140,-0.7],[150,-0.7],[160,-0.8],[170,-0.8],[180,-0.7],[190,-0.3],[200,0.3],[210,0.6],[215,0.5],[220,0.0],[230,-0.2],[240,0.0],[250,0.1],[255,0.1],[260,0.0],[270,-0.6]];

// ---------- axes: [xmin, xmax], [ymin, ymax], ticks ----------
const xRanges: [number, number][] = [[0,1200],[0,25],[0,600],[0,600],[0,2000],[0,1200],[0,400],[0,100],[0,70],[0,70],[0,100],[0,1200],[0,350],[0,100],[0,200],[0,150],[0,500],[0,2000],[0,140],[0,300]];
const yRanges: [number, number][] = [[-2,3],[-2,2.5],[-3,3],[-2.5,2.5],[-8,12],[-10,4],[-2.5,2.5],[-1,6],[-3,4],[-3,4],[-3,2],[-2,2],[-2,2],[-10,2],[-2,6],[-8,6.5],[-2,10],[-3,4],[-3,3],[-2,4]];
const xTickLabels: number[][] = [[0,500,1000],[0,10,20],[0,200,400,600],[0,200,400,600],[0,1000,2000],[0,500,1000],[0,200,400],[0,50,100],[0,20,40,60],[0,20,40,60],[0,50,100],[0,500,1000],[0,100,200,300],[0,50,100],[0,100,200],[0,50,100],[0,200,400],[0,1000,2000],[0,50,100],[0,100,200,300]];
const yTickLabels: number[][] = [[-2,0,2],[-2,0,2],[-2,0,2],[-2,0,2],[-5,0,5,10],[-10,-5,0],[-2,0,2],[0,2,4,6],[-2,0,2,4],[-2,0,2,4],[-2,0,2],[-2,0,2],[-2,0,2],[-10,-5,0],[-2,0,2,4,6],[-5,0,5],[0,5,10],[-2,0,2,4],[-2,0,2],[-2,0,2,4]];

const zip = (xs: number[], ys: number[]): Pt[] => xs.map((x, i) => [x, ys[i]]);

type Series = { color: string; pts: Pt[] };
const five = (b: Pt[], g: Pt[], r: Pt[], c: Pt[], m: Pt[]): Series[] => [
  { color: BLUE, pts: b },
  { color: GREEN, pts: g },
  { color: RED, pts: r },
  { color: CYAN, pts: c },
  { color: MAGENTA, pts: m },
];

const panelSeries: Series[][] = [
  five(zip(p1X, p1Blue), zip(p1X, p1Green), zip(p1X, p1Red), zip(p1X, p1Cyan), zip(p1X, p1Magenta)),
  five(zip(p2X, p2Blue), zip(p2X, p2Green), zip(p2X, p2Red), zip(p2X, p2Cyan), zip(p2X, p2Magenta)),
  five(zip(p3X, p3Blue), zip(p3X, p3Green), zip(p3X, p3Red), zip(p3X, p3Cyan), zip(p3X, p3Magenta)),
  five(zip(p4X, p4Blue), zip(p4X, p4Green), zip(p4X, p4Red), zip(p4X, p4Cyan), zip(p4X, p4Magenta)),
  five(p5Blue, p5Green, p5Red, p5Cyan, p5Magenta),
  five(p6Blue, p6Green, p6Red, p6Cyan, p6Magenta),
  five(zip(p7X, p7Blue), zip(p7X, p7Green), zip(p7X, p7Red), zip(p7X, p7Cyan), zip(p7X, p7Magenta)),
  five(zip(p8X, p8Blue), zip(p8X, p8Green), zip(p8X, p8Red), zip(p8X, p8Cyan), zip(p8X, p8Magenta)),
  five(zip(p9X, p9Blue), zip(p9X, p9Green), zip(p9X, p9Red), zip(p9X, p9Cyan), zip(p9X, p9Magenta)),
  five(p10Blue, p10Green, p10Red, p10Cyan, p10Magenta),
  five(p11Blue, p11Green, p11Red, p11Cyan, p11Magenta),
  five(p12Blue, p12Green, p12Red, p12Cyan, p12Magenta),
  [{ color: BLUE, pts: zip(p13X, p13Blue) }],
  five(p14Blue, p14Green, p14Red, p14Cyan, p14Magenta),
  five(p15Blue, p15Green, p15Red, p15Cyan, p15Magenta),
  five(p16Blue, p16Green, p16Red, p16Cyan, p16Magenta),
  five(p17Blue, p17Green, p17Red, p17Cyan, p17Magenta),
  five(p18Blue, p18Green, p18Red, p18Cyan, p18Magenta),
  five(p19Blue, p19Green, p19Red, p19Cyan, p19Magenta),
  five(p20Blue, p20Green, p20Red, p20Cyan, p20Magenta),
];

const FONT = '"Liberation Sans", Arial, Helvetica, sans-serif';
const ROW_H = 116.2;
const CANVAS_H = 116;

const framePlugin = {
  id: 'frame',
  afterDraw(chart: any, _args: any, opts: any) {
    const { ctx, chartArea: a, scales } = chart;
    ctx.save();
    const L = Math.round(a.left) + 0.5;
    const R = Math.round(a.right) - 0.5;
    const T = Math.round(a.top) + 0.5;
    const B = Math.round(a.bottom) - 0.5;
    ctx.strokeStyle = '#262626';
    ctx.lineWidth = 1;
    ctx.strokeRect(L, T, R - L, B - T);
    const tl = 2.5;
    ctx.beginPath();
    for (const t of scales.x.ticks) {
      const px = Math.round(scales.x.getPixelForValue(t.value)) + 0.5;
      if (px <= L + 1 || px >= R - 1) continue;
      ctx.moveTo(px, B); ctx.lineTo(px, B - tl);
      ctx.moveTo(px, T); ctx.lineTo(px, T + tl);
    }
    for (const t of scales.y.ticks) {
      const py = Math.round(scales.y.getPixelForValue(t.value)) + 0.5;
      if (py <= T + 1 || py >= B - 1) continue;
      ctx.moveTo(L, py); ctx.lineTo(L + tl, py);
      ctx.moveTo(R, py); ctx.lineTo(R - tl, py);
    }
    ctx.stroke();
    ctx.fillStyle = '#000';
    ctx.font = `13px ${FONT}`;
    ctx.textAlign = 'center';
    ctx.textBaseline = 'alphabetic';
    ctx.fillText(opts.text, (a.left + a.right) / 2, 17);
    ctx.restore();
  },
};

function Panel({ idx }: { idx: number }) {
  const ref = useRef<HTMLCanvasElement>(null);
  const col = idx % 2;
  const row = Math.floor(idx / 2);
  const left = col === 0 ? 0 : 222;
  const width = col === 0 ? 222 : 223;
  const top = Math.round(row * ROW_H);
  const yAxisW = col === 0 ? 19 : 38;
  const padRight = col === 0 ? 33 : 15;

  useEffect(() => {
    const xr = xRanges[idx];
    const yr = yRanges[idx];
    const xt = xTickLabels[idx];
    const yt = yTickLabels[idx];
    const series = panelSeries[idx];
    const datasets = series
      .map((s) => ({
        data: s.pts.map(([x, y]) => ({ x, y })),
        borderColor: s.color,
        borderWidth: 1,
        pointRadius: 0,
        fill: false,
        tension: 0,
      }))
      .reverse();
    const tickFont = { family: FONT, size: 13 };
    const chart = new Chart(ref.current as HTMLCanvasElement, {
      type: 'line',
      data: { datasets },
      options: {
        animation: false,
        responsive: false,
        devicePixelRatio: 1,
        events: [],
        layout: { padding: { top: 24, right: padRight, left: 0, bottom: 0 } },
        plugins: {
          legend: { display: false },
          tooltip: { enabled: false },
          frame: { text: `Dataset #${idx + 1}` },
        } as any,
        scales: {
          x: {
            type: 'linear',
            min: xr[0],
            max: xr[1],
            grid: { display: false, drawTicks: false },
            border: { display: false },
            ticks: {
              color: '#000',
              font: tickFont,
              padding: 3,
              maxRotation: 0,
              autoSkip: false,
              callback: (v: any) => String(v),
            },
            afterBuildTicks: (s: any) => {
              s.ticks = xt.map((v) => ({ value: v }));
            },
            afterFit: (s: any) => {
              s.height = 18;
            },
          },
          y: {
            type: 'linear',
            min: yr[0],
            max: yr[1],
            grid: { display: false, drawTicks: false },
            border: { display: false },
            ticks: {
              color: '#000',
              font: tickFont,
              padding: 5,
              autoSkip: false,
              callback: (v: any) => String(v),
            },
            afterBuildTicks: (s: any) => {
              s.ticks = yt.map((v) => ({ value: v }));
            },
            afterFit: (s: any) => {
              s.width = yAxisW;
            },
          },
        },
      } as any,
      plugins: [framePlugin],
    });
    return () => chart.destroy();
  }, [idx]);

  return (
    <canvas
      ref={ref}
      width={width}
      height={CANVAS_H}
      style={{ position: 'absolute', left, top, width, height: CANVAS_H, display: 'block' }}
    />
  );
}

export default function App() {
  return (
    <div style={{ position: 'absolute', left: 0, top: 0, width: 445, height: 1162, background: '#fff' }}>
      {panelSeries.map((_, i) => (
        <Panel key={i} idx={i} />
      ))}
    </div>
  );
}
